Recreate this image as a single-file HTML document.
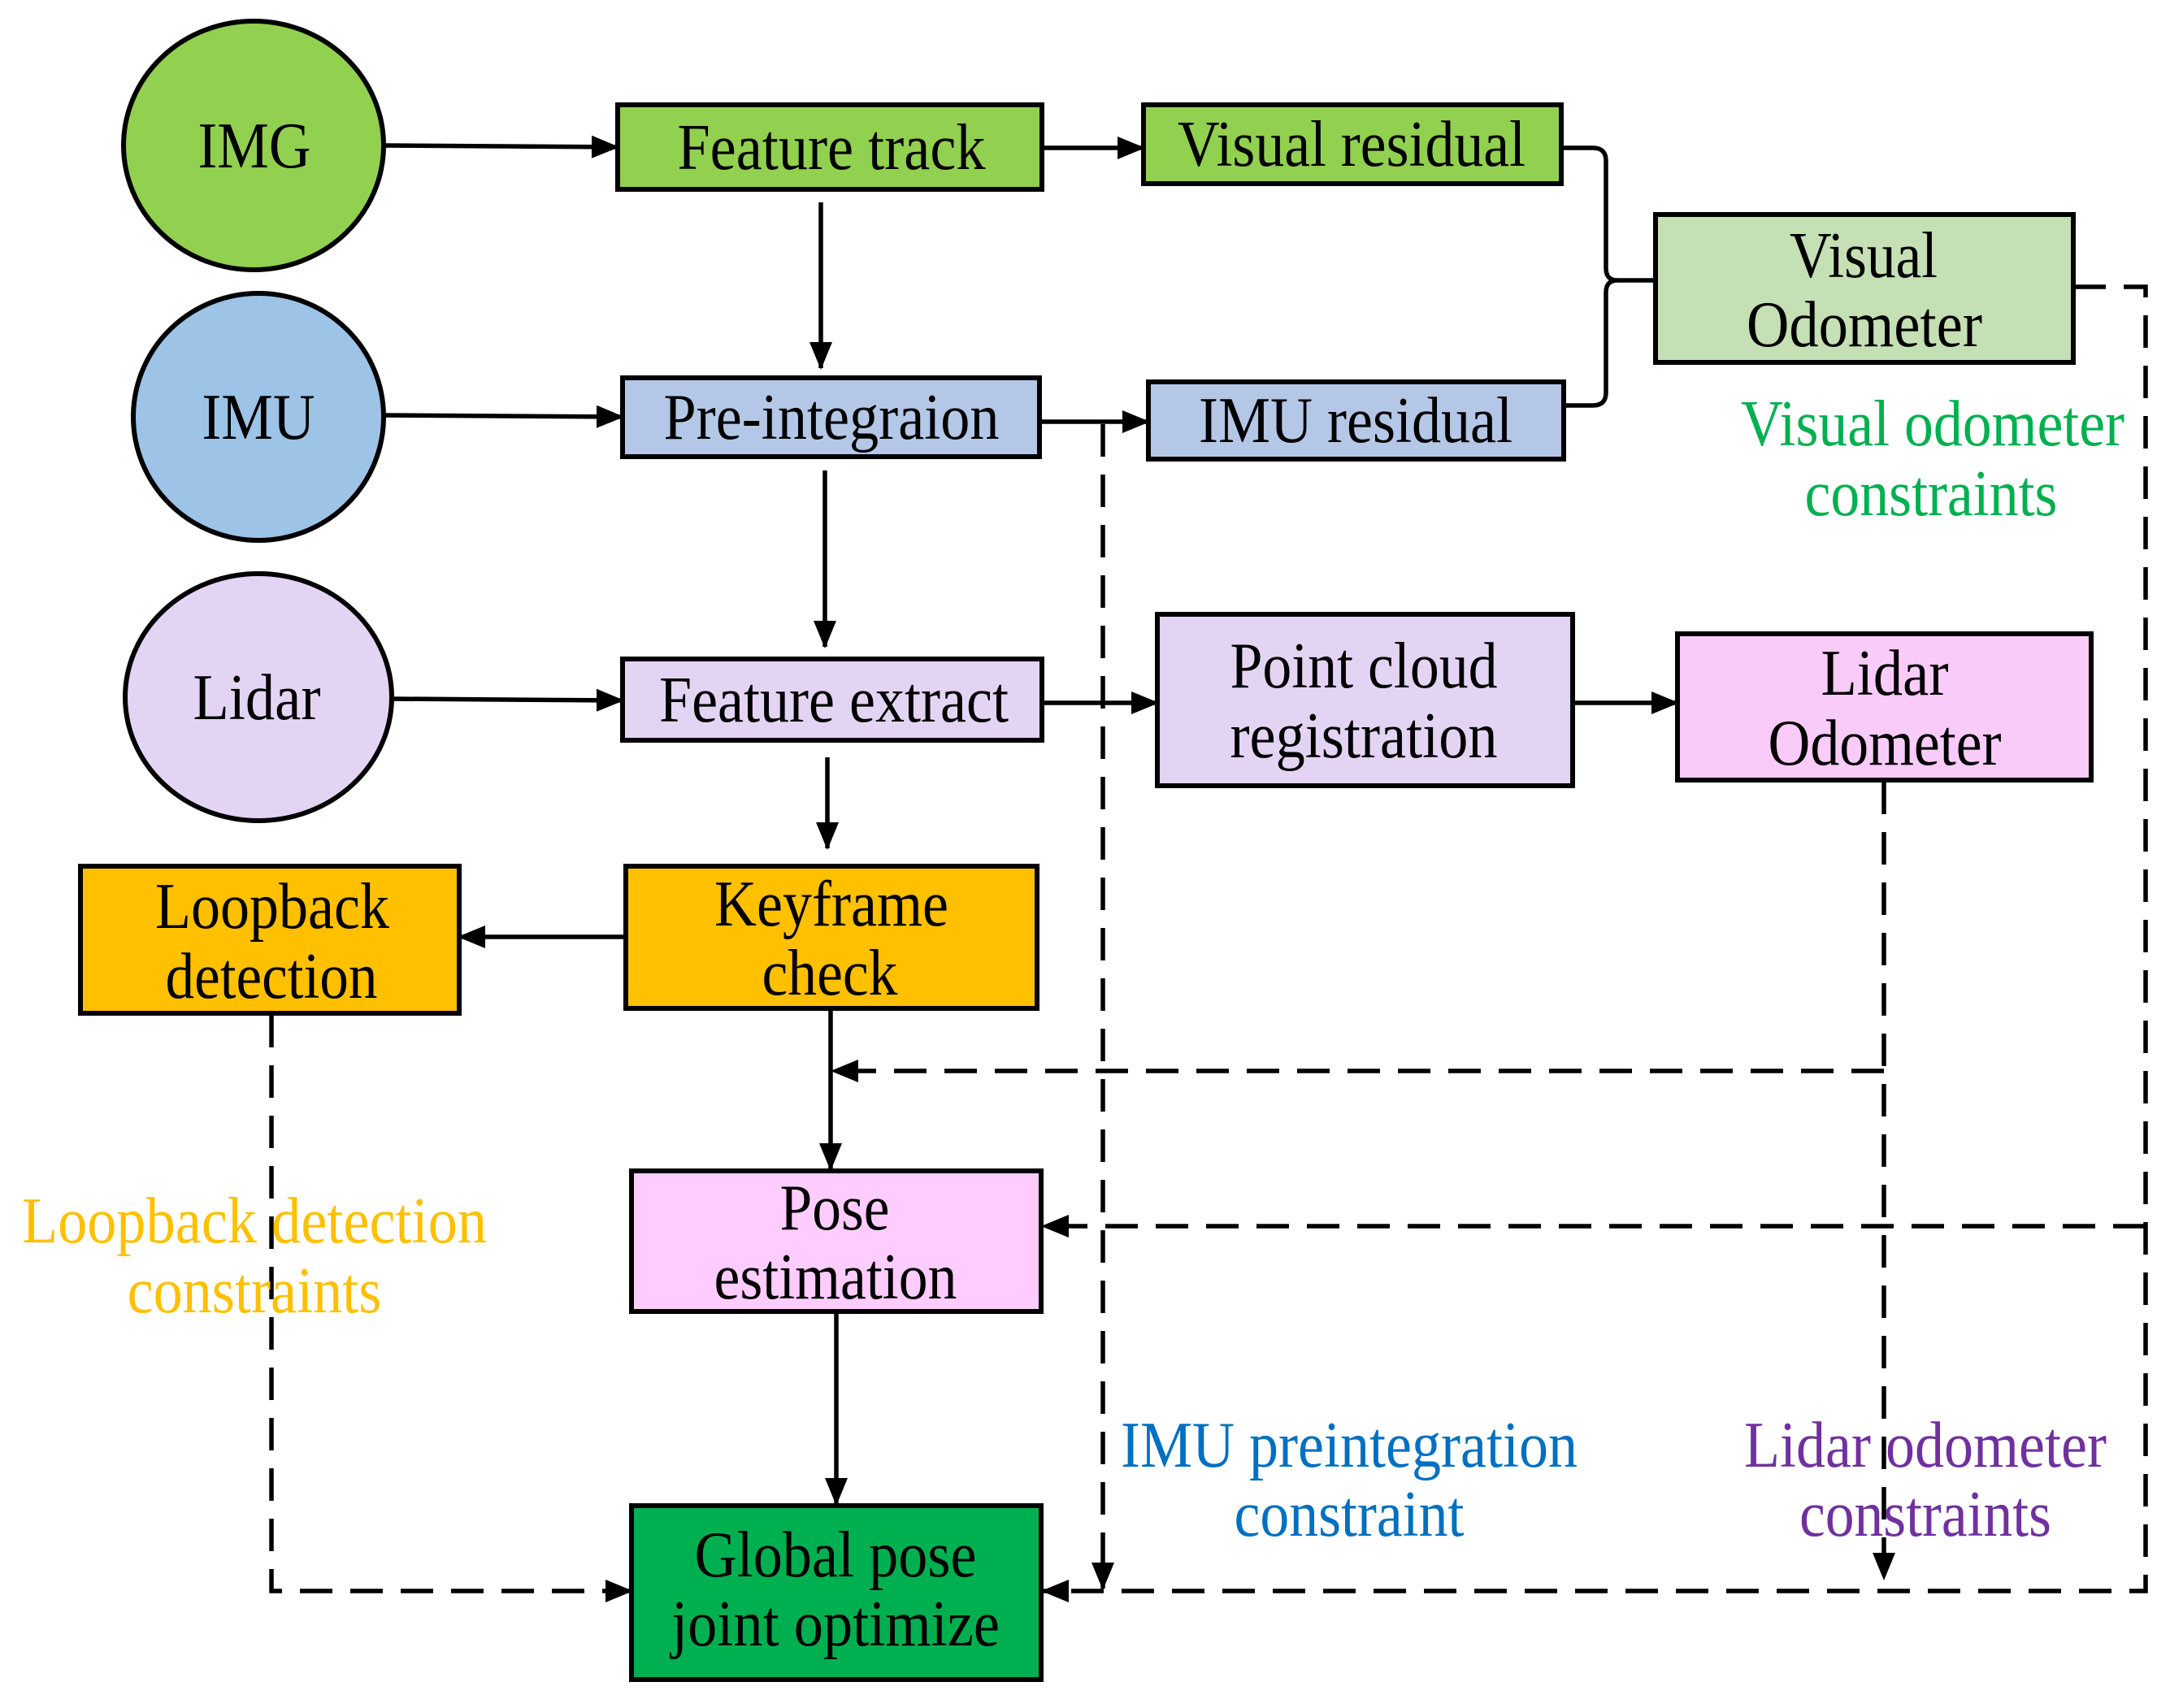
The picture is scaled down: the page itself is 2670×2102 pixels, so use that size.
<!DOCTYPE html>
<html><head><meta charset="utf-8"><style>
html,body{margin:0;padding:0;background:#fff;}
svg{display:block;}
text{font-family:"Liberation Serif",serif;font-size:80px;text-anchor:middle;}
</style></head><body>
<svg width="2670" height="2102" viewBox="0 0 2670 2102" xmlns="http://www.w3.org/2000/svg">
<defs>
<marker id="a" markerUnits="userSpaceOnUse" markerWidth="34" markerHeight="34" viewBox="0 0 34 34" refX="32" refY="17" orient="auto">
<path d="M0,3 L34,17 L0,31 Z" fill="#000"/>
</marker>
</defs>
<g stroke="#000" stroke-width="6">
<ellipse cx="312" cy="179" rx="160" ry="153" fill="#92D050"/>
<ellipse cx="318" cy="513" rx="154" ry="152" fill="#9DC3E6"/>
<ellipse cx="318" cy="858" rx="164" ry="152" fill="#E4D4F4"/>
<rect x="760" y="129" width="522" height="104" fill="#92D050"/>
<rect x="766" y="465" width="513" height="97" fill="#B4C7E7"/>
<rect x="766" y="811" width="516" height="100" fill="#E4D4F4"/>
<rect x="1407" y="129" width="514" height="97" fill="#92D050"/>
<rect x="1413" y="470" width="511" height="95" fill="#B4C7E7"/>
<rect x="2037" y="264" width="514" height="182" fill="#C5E0B4"/>
<rect x="1424" y="756" width="511" height="211" fill="#E4D4F4"/>
<rect x="2064" y="780" width="509" height="180" fill="#F8CBF8"/>
<rect x="99" y="1066" width="466" height="181" fill="#FFC000"/>
<rect x="770" y="1066" width="506" height="175" fill="#FFC000"/>
<rect x="777" y="1441" width="504" height="173" fill="#FFCCFF"/>
<rect x="777" y="1853" width="504" height="214" fill="#00B050"/>
</g>
<g stroke="#000" stroke-width="5.5" fill="none">
<line x1="472" y1="179" x2="760" y2="181" marker-end="url(#a)"/>
<line x1="472" y1="511" x2="766" y2="513" marker-end="url(#a)"/>
<line x1="482" y1="860" x2="766" y2="862" marker-end="url(#a)"/>
<line x1="1282" y1="182" x2="1407" y2="182" marker-end="url(#a)"/>
<line x1="1279" y1="519" x2="1413" y2="519" marker-end="url(#a)"/>
<line x1="1282" y1="865" x2="1424" y2="865" marker-end="url(#a)"/>
<line x1="1935" y1="865" x2="2064" y2="865" marker-end="url(#a)"/>
<line x1="1010" y1="249" x2="1010" y2="453" marker-end="url(#a)"/>
<line x1="1015" y1="579" x2="1015" y2="796" marker-end="url(#a)"/>
<line x1="1018" y1="932" x2="1018" y2="1044" marker-end="url(#a)"/>
<line x1="770" y1="1153" x2="565" y2="1153" marker-end="url(#a)"/>
<line x1="1022" y1="1243" x2="1022" y2="1439" marker-end="url(#a)"/>
<line x1="1029" y1="1616" x2="1029" y2="1851" marker-end="url(#a)"/>
<path d="M1921,182 L1960,182 Q1976,182 1976,198 L1976,330 Q1976,345 1990,345 L2037,345"/>
<path d="M1924,499 L1960,499 Q1976,499 1976,483 L1976,360 Q1976,345 1990,345"/>
</g>
<g stroke="#000" stroke-width="5.5" fill="none" stroke-dasharray="40,22">
<line x1="1357" y1="522" x2="1357" y2="1955" marker-end="url(#a)"/>
<path d="M2551,353 L2640,353 L2640,1958 L1283,1958" marker-end="url(#a)"/>
<line x1="2640" y1="1509" x2="1283" y2="1509" marker-end="url(#a)"/>
<line x1="2318" y1="962" x2="2318" y2="1943" marker-end="url(#a)"/>
<line x1="2318" y1="1318" x2="1024" y2="1318" marker-end="url(#a)"/>
<path d="M334,1249 L334,1958 L777,1958" marker-end="url(#a)"/>
</g>
<g fill="#000">
<text x="313" y="206" textLength="139" lengthAdjust="spacingAndGlyphs">IMG</text>
<text x="318" y="540" textLength="139" lengthAdjust="spacingAndGlyphs">IMU</text>
<text x="316" y="885" textLength="157" lengthAdjust="spacingAndGlyphs">Lidar</text>
<text x="1023" y="208" textLength="379" lengthAdjust="spacingAndGlyphs">Feature track</text>
<text x="1023" y="540" textLength="413" lengthAdjust="spacingAndGlyphs">Pre-integraion</text>
<text x="1026" y="888" textLength="430" lengthAdjust="spacingAndGlyphs">Feature extract</text>
<text x="1663" y="204" textLength="428" lengthAdjust="spacingAndGlyphs">Visual residual</text>
<text x="1668" y="544" textLength="386" lengthAdjust="spacingAndGlyphs">IMU residual</text>
<text x="2293" y="341" textLength="182" lengthAdjust="spacingAndGlyphs">Visual</text>
<text x="2294" y="426" textLength="290" lengthAdjust="spacingAndGlyphs">Odometer</text>
<text x="1678" y="846" textLength="329" lengthAdjust="spacingAndGlyphs">Point cloud</text>
<text x="1678" y="932" textLength="329" lengthAdjust="spacingAndGlyphs">registration</text>
<text x="2319" y="855" textLength="157" lengthAdjust="spacingAndGlyphs">Lidar</text>
<text x="2319" y="941" textLength="287" lengthAdjust="spacingAndGlyphs">Odometer</text>
<text x="335" y="1142" textLength="288" lengthAdjust="spacingAndGlyphs">Loopback</text>
<text x="334" y="1228" textLength="261" lengthAdjust="spacingAndGlyphs">detection</text>
<text x="1023" y="1139" textLength="288" lengthAdjust="spacingAndGlyphs">Keyframe</text>
<text x="1021" y="1224" textLength="167" lengthAdjust="spacingAndGlyphs">check</text>
<text x="1027" y="1513" textLength="135" lengthAdjust="spacingAndGlyphs">Pose</text>
<text x="1028" y="1598" textLength="299" lengthAdjust="spacingAndGlyphs">estimation</text>
<text x="1028" y="1940" textLength="347" lengthAdjust="spacingAndGlyphs">Global pose</text>
<text x="1028" y="2025" textLength="404" lengthAdjust="spacingAndGlyphs">joint optimize</text>
</g>
<text x="2378" y="548" fill="#00B050" textLength="472" lengthAdjust="spacingAndGlyphs">Visual odometer</text>
<text x="2376" y="634" fill="#00B050" textLength="311" lengthAdjust="spacingAndGlyphs">constraints</text>
<text x="313" y="1529" fill="#FFC000" textLength="572" lengthAdjust="spacingAndGlyphs">Loopback detection</text>
<text x="313" y="1615" fill="#FFC000" textLength="313" lengthAdjust="spacingAndGlyphs">constraints</text>
<text x="1660" y="1805" fill="#0070C0" textLength="562" lengthAdjust="spacingAndGlyphs">IMU preintegration</text>
<text x="1660" y="1890" fill="#0070C0" textLength="283" lengthAdjust="spacingAndGlyphs">constraint</text>
<text x="2369" y="1805" fill="#7030A0" textLength="446" lengthAdjust="spacingAndGlyphs">Lidar odometer</text>
<text x="2369" y="1890" fill="#7030A0" textLength="310" lengthAdjust="spacingAndGlyphs">constraints</text>
</svg>
</body></html>
